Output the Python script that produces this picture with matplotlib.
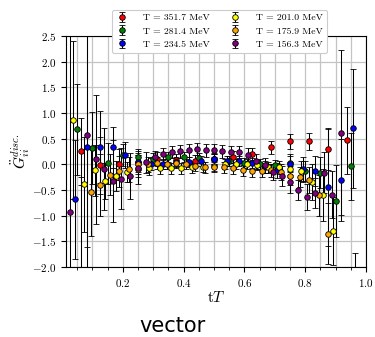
import numpy as np
import matplotlib
matplotlib.use("Agg")
import matplotlib.pyplot as plt
from matplotlib.ticker import MultipleLocator

plt.rcParams['font.family'] = 'serif'
plt.rcParams['font.serif'] = ['cmr10']
plt.rcParams['mathtext.fontset'] = 'cm'
plt.rcParams['axes.formatter.use_mathtext'] = True

# temperatures and time extents
temps = [351.7, 281.4, 234.5, 201.0, 175.9, 156.3]
n_tau = [16, 20, 24, 28, 32, 36]
colors = ['red', 'green', 'blue', 'yellow', 'orange', 'purple']

# T = 351.7 MeV
t_351 = list(range(1, 16))
g_351 = [0.25, -0.02, 0.00, 0.05, 0.10, 0.08, 0.06, 0.10, 0.14, 0.20, 0.33, 0.45, 0.45, 0.29, 0.47]
e_351 = [0.65, 0.55, 0.30, 0.20, 0.14, 0.12, 0.12, 0.12, 0.12, 0.12, 0.12, 0.15, 0.17, 0.40, 0.65]

# T = 281.4 MeV
t_281 = list(range(1, 20))
g_281 = [0.68, 0.31, 0.02, 0.18, 0.14, 0.10, 0.14, 0.14, 0.12, 0.10, 0.06, 0.02, 0.00, -0.02, 0.02,
         -0.13, -0.16, -0.72, -0.04]
e_281 = [0.88, 0.70, 0.40, 0.22, 0.15, 0.12, 0.10, 0.10, 0.10, 0.10, 0.10, 0.10, 0.10, 0.10, 0.15,
         0.20, 0.30, 0.70, 0.65]

# T = 234.5 MeV
t_234 = list(range(1, 24))
g_234 = [-0.68, 0.33, 0.33, 0.33, 0.18, 0.04, 0.00, 0.00, 0.05, 0.04, 0.06, 0.10, 0.06, 0.06, 0.02,
         -0.05, -0.12, 0.00, -0.10, -0.13, -0.45, -0.30, 0.70]
e_234 = [1.16, 2.60, 0.70, 0.40, 0.25, 0.15, 0.12, 0.10, 0.10, 0.10, 0.10, 0.10, 0.10, 0.10, 0.10,
         0.12, 0.15, 0.20, 0.25, 0.30, 1.15, 0.80, 1.16]

# T = 201.0 MeV
t_201 = list(range(1, 26)) + [27]
g_201 = [0.86, -0.39, -0.12, -0.33, -0.23, -0.15, -0.10, -0.08, -0.08, -0.08, -0.08, -0.06, -0.05,
         -0.03, 0.00, 0.00, 0.00, -0.02, -0.06, -0.06, -0.10, -0.13, -0.35, -0.60, -1.30, -2.50]
e_201 = [1.54, 0.92, 0.50, 0.35, 0.30, 0.20, 0.15, 0.12, 0.10, 0.10, 0.10, 0.10, 0.10,
         0.10, 0.10, 0.10, 0.10, 0.10, 0.10, 0.12, 0.15, 0.20, 0.35, 0.50, 0.67, 0.77]

# T = 175.9 MeV
t_175 = list(range(2, 29))
g_175 = [-2.60, -0.54, -0.40, -0.20, -0.14, -0.10, 0.00, 0.00, 0.02, 0.00, 0.02, 0.00, -0.03, -0.06,
         -0.05, -0.06, -0.08, -0.12, -0.13, -0.13, -0.12, -0.15, -0.22, -0.25, -0.30, -0.60, -1.35]
e_175 = [2.35, 0.85, 0.60, 0.40, 0.30, 0.25, 0.18, 0.15, 0.12, 0.10, 0.10, 0.10, 0.10, 0.10,
         0.10, 0.10, 0.10, 0.10, 0.12, 0.12, 0.12, 0.15, 0.18, 0.20, 0.25, 0.40, 0.60]

# T = 156.3 MeV
t_156 = [1] + list(range(3, 34))
g_156 = [-0.93, 0.58, 0.10, -0.10, -0.33, -0.28, -0.22, -0.08, 0.04, 0.14, 0.20, 0.24, 0.25, 0.27,
         0.30, 0.27, 0.27, 0.25, 0.24, 0.24, 0.19, 0.06, -0.02, -0.15, -0.23, -0.35, -0.50, -0.64,
         -0.56, -0.16, -0.59, 0.62]
e_156 = [3.60, 2.20, 1.26, 0.80, 0.80, 0.60, 0.45, 0.30, 0.20, 0.12, 0.12, 0.12, 0.12, 0.12,
         0.12, 0.12, 0.12, 0.12, 0.12, 0.12, 0.12, 0.15, 0.15, 0.15, 0.20, 0.20, 0.20, 0.25,
         0.30, 0.40, 0.45, 1.60]

series = [(t_351, g_351, e_351), (t_281, g_281, e_281), (t_234, g_234, e_234),
          (t_201, g_201, e_201), (t_175, g_175, e_175), (t_156, g_156, e_156)]

fig = plt.figure(figsize=(3.75, 3.37), dpi=100)
ax = fig.add_axes([0.176, 0.208, 0.8, 0.685])

handles = []
for (t, g, e), nt, col, temp in zip(series, n_tau, colors, temps):
    x = np.array(t) / nt
    h = ax.errorbar(x, g, yerr=e, fmt='o', color=col, ecolor='black', elinewidth=0.75,
                    capsize=2.2, capthick=0.75, markersize=4, markeredgecolor='black',
                    markeredgewidth=0.6, label=f"T = {temp:.1f} MeV")
    handles.append(h)

ax.set_xlim(0.013, 1.0)
ax.set_ylim(-2.0, 2.5)
ax.xaxis.set_major_locator(MultipleLocator(0.2))
ax.xaxis.set_minor_locator(MultipleLocator(0.05))
ax.yaxis.set_major_locator(MultipleLocator(0.5))
ax.grid(True, which='major', color='#c4c4c4', linewidth=0.9)
ax.grid(True, which='minor', axis='x', color='#c4c4c4', linewidth=0.9)
ax.set_axisbelow(True)
ax.tick_params(axis='both', which='major', labelsize=8, length=3.5, width=0.8)
ax.tick_params(axis='x', which='minor', length=2, width=0.6)

ax.set_xlabel(r'$\mathrm{t}T$', fontsize=11, labelpad=1)
ax.set_ylabel(r'$\ddot{G}^{disc.}_{ii}$', fontsize=11, labelpad=0)

for _, spine in ax.spines.items():
    spine.set_linewidth(0.8)
    spine.set_color('black')

leg = ax.legend(handles=handles, ncol=2, fontsize=7, loc='upper center',
                bbox_to_anchor=(0.512, 1.135), handlelength=1.2, handletextpad=1.6,
                columnspacing=2.0, labelspacing=0.45, borderpad=0.4, framealpha=1.0)
leg.get_frame().set_edgecolor('#cccccc')
leg.get_frame().set_linewidth(0.8)

fig.text(0.459, 0.014, 'vector', fontsize=15, ha='center', va='baseline', family='DejaVu Sans')

plt.savefig('out.png', dpi=100)
plt.close()
